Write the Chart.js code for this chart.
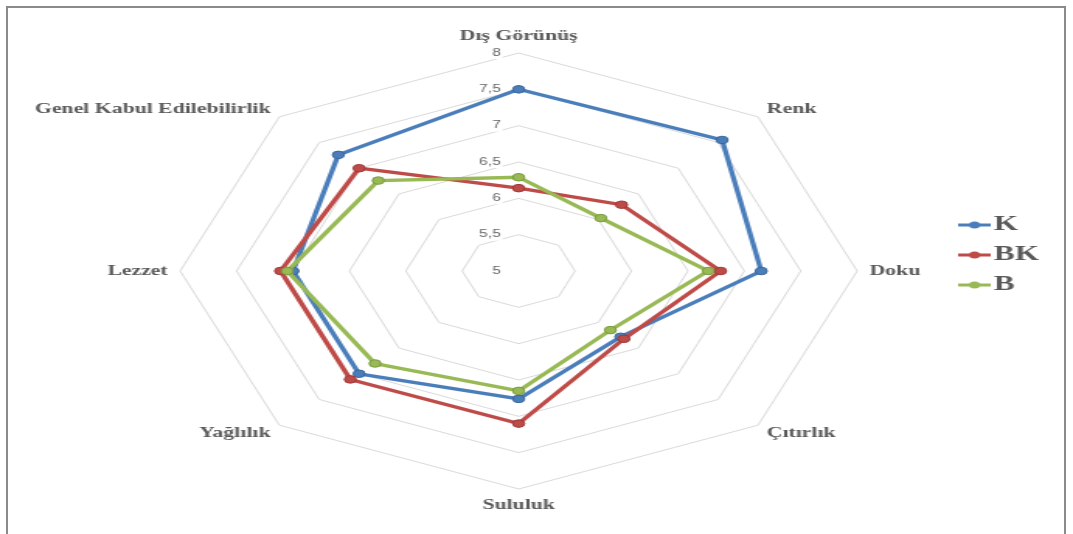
<!DOCTYPE html>
<html>
<head>
<meta charset="utf-8">
<script src="https://cdn.jsdelivr.net/npm/chart.js@4.4.1/dist/chart.umd.min.js"></script>
<style>
html,body{margin:0;padding:0;background:#fff;width:1073px;height:534px;overflow:hidden;}
#wrap{position:relative;width:1073px;height:534px;}
#frame{position:absolute;left:6px;top:6px;width:1060px;height:545px;border:2px solid #8a8a8a;box-sizing:border-box;}
#c{position:absolute;left:0;top:0;}
</style>
</head>
<body>
<div id="wrap">
<div id="frame"></div>
<canvas id="c" width="691" height="534" style="width:1073px;height:534px"></canvas>
</div>
<script>
// ---- data ----
const categories = ['Dış Görünüş', 'Renk', 'Doku', 'Çıtırlık', 'Sululuk', 'Yağlılık', 'Lezzet', 'Genel Kabul Edilebilirlik'];
const seriesNames = ['K', 'BK', 'B'];
const valuesK  = [7.50, 7.55, 7.15, 6.28, 6.76, 7.00, 7.00, 7.26];
const valuesBK = [6.14, 6.29, 6.79, 6.32, 7.10, 7.11, 7.11, 7.00];
const valuesB  = [6.29, 6.03, 6.68, 6.15, 6.65, 6.80, 7.05, 6.76];
const tickValues = [5, 5.5, 6, 6.5, 7, 7.5, 8];
const tickLabels = ['5', '5,5', '6', '6,5', '7', '7,5', '8'];

// ---- styles ----
const colors = ['#4a7ebb', '#be4b48', '#98b954'];
const pointBorders = ['#3a6698', '#9c3a38', '#7a9a40'];
const serif = '"Liberation Serif", "Times New Roman", serif';

function makeMarker(color) {
  const c = document.createElement('canvas');
  c.width = 21; c.height = 10;
  const g = c.getContext('2d');
  g.strokeStyle = color; g.lineWidth = 3;
  g.beginPath(); g.moveTo(0, 5); g.lineTo(21, 5); g.stroke();
  g.fillStyle = color;
  g.beginPath(); g.arc(10.5, 5, 3.5, 0, Math.PI * 2); g.fill();
  return c;
}
const markers = colors.map(makeMarker);

// tick labels of the value axis, right-aligned just left of the vertical axis (Excel style)
const tickLabelPlugin = {
  id: 'tickLabelPlugin',
  beforeDatasetsDraw(chart) {
    const s = chart.scales.r;
    const ctx = chart.ctx;
    ctx.save();
    ctx.font = '10px "Liberation Sans", Arial, sans-serif';
    ctx.textAlign = 'right';
    ctx.textBaseline = 'middle';
    tickValues.forEach((v, i) => {
      const y = s.yCenter - s.getDistanceFromCenterForValue(v);
      const x = s.xCenter - 11.5;
      const w = ctx.measureText(tickLabels[i]).width;
      ctx.fillStyle = '#ffffff';
      ctx.fillRect(x - w - 1, y - 6, w + 2, 12);
      ctx.fillStyle = '#666666';
      ctx.fillText(tickLabels[i], x, y);
    });
    ctx.restore();
  }
};

const seriesValues = [valuesK, valuesBK, valuesB];
const datasets = seriesNames.map((name, i) => ({
  label: name,
  data: seriesValues[i],
  borderColor: colors[i],
  backgroundColor: colors[i],
  pointBackgroundColor: colors[i],
  pointBorderColor: pointBorders[i],
  pointBorderWidth: 1,
  pointRadius: 3.8,
  borderWidth: 3.3,
  fill: false,
  clip: false,
  order: seriesNames.length - i
}));

new Chart(document.getElementById('c'), {
  type: 'radar',
  data: { labels: categories, datasets },
  plugins: [tickLabelPlugin],
  options: {
    responsive: false,
    animation: false,
    devicePixelRatio: 1,
    layout: { padding: { top: 0, bottom: 24, left: 0, right: 12 } },
    plugins: {
      tooltip: { enabled: false },
      legend: {
        position: 'right',
        labels: {
          usePointStyle: true,
          pointStyleWidth: 5,
          padding: 10,
          color: '#595959',
          font: { family: serif, size: 20, weight: 'bold' },
          generateLabels(chart) {
            const items = Chart.defaults.plugins.legend.labels.generateLabels(chart);
            items.forEach(it => { it.pointStyle = markers[it.datasetIndex]; });
            return items.sort((a, b) => a.datasetIndex - b.datasetIndex);
          }
        }
      }
    },
    scales: {
      r: {
        min: tickValues[0],
        max: tickValues[tickValues.length - 1],
        angleLines: { display: false },
        grid: { circular: false, color: '#d9d9d9', lineWidth: 1 },
        pointLabels: {
          padding: 8,
          color: '#595959',
          font: { family: serif, size: 14, weight: 'bold' }
        },
        ticks: {
          display: false,
          stepSize: 0.5
        },
        beforeFit(scale) {
          scale._savedBox = { left: scale.left, right: scale.right, top: scale.top, bottom: scale.bottom };
          scale.left = -5000; scale.right = 5000; scale.top = -5000; scale.bottom = 5000;
          scale.xCenter = 334;
          scale.yCenter = 271;
          scale.drawingArea = 218;
        },
        afterFit(scale) {
          Object.assign(scale, scale._savedBox);
          const items = scale._pointLabelItems || [];
          [1, 7].forEach(i => { if (items[i]) items[i].y += 7; });
          [3, 5].forEach(i => { if (items[i]) items[i].y -= 6; });
        }
      }
    }
  }
});
</script>
</body>
</html>
